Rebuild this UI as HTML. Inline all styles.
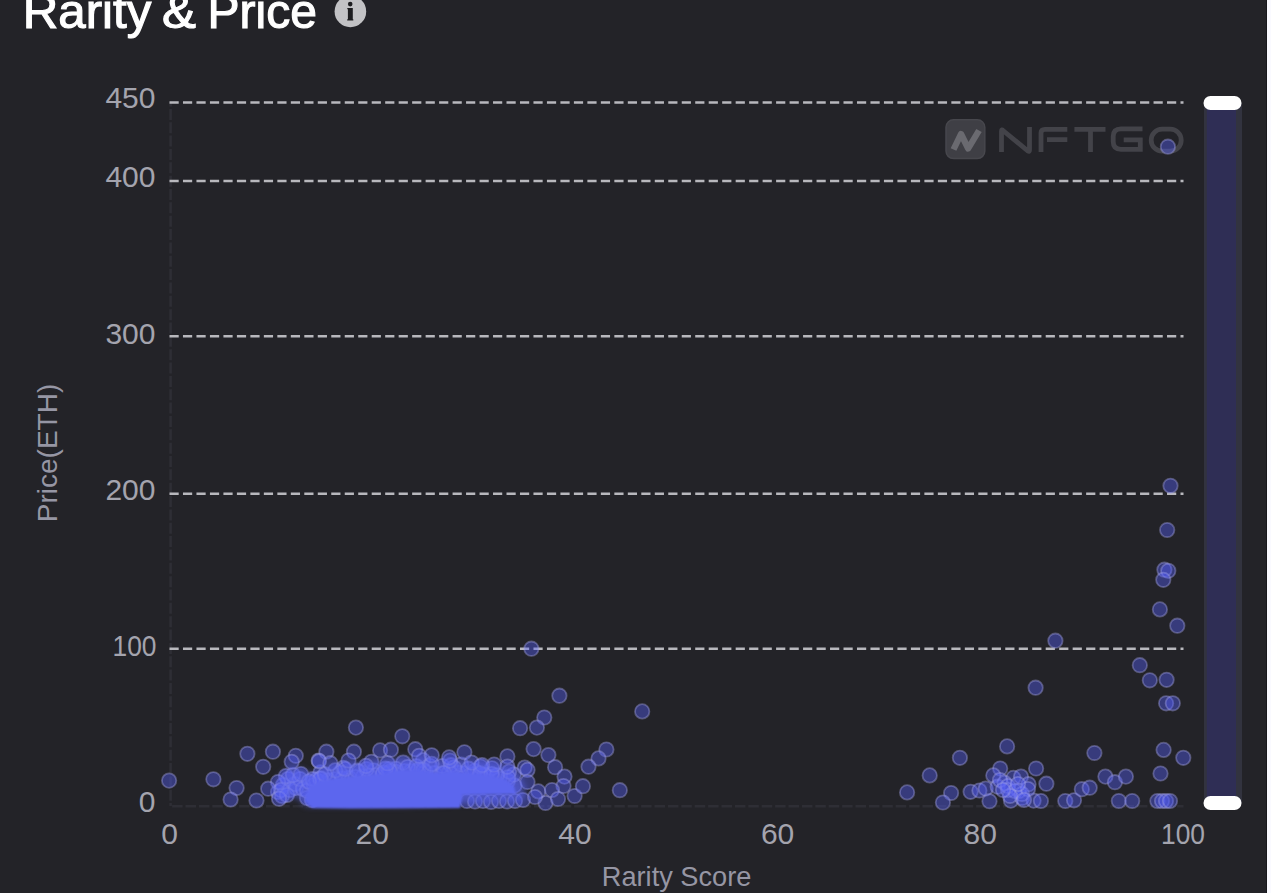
<!DOCTYPE html>
<html><head><meta charset="utf-8"><style>
html,body{margin:0;padding:0;background:#232328;width:1271px;height:893px;overflow:hidden}
svg{display:block}
text{font-family:"Liberation Sans",sans-serif}
.pts{filter:blur(0.6px)}
.halo{filter:blur(3px)}
.core{filter:blur(1.2px)}
</style></head><body>
<svg width="1271" height="893" viewBox="0 0 1271 893">
<rect width="1271" height="893" fill="#232328"/>
<g font-size="48" fill="#ffffff" stroke="#ffffff" stroke-width="1.1">
<text x="22.8" y="27.5" textLength="128.5" lengthAdjust="spacingAndGlyphs">Rarity</text>
<text x="162" y="27.5" textLength="34" lengthAdjust="spacingAndGlyphs">&amp;</text>
<text x="207.5" y="27.5" textLength="109.5" lengthAdjust="spacingAndGlyphs">Price</text>
</g>
<circle cx="350.4" cy="11.4" r="15.8" fill="#c2c2c5"/>
<path d="M347.3,7.9 H352.8 V19.3 H353.3 V20.6 H347.2 V19.3 H347.9 V9.2 H347.3 Z" fill="#1c1c1f"/>
<circle cx="350.2" cy="4.1" r="2.3" fill="#1c1c1f"/>
<g stroke="#2e2e35" stroke-width="2.6" fill="none">
<line x1="170.6" y1="102" x2="170.6" y2="806" stroke-dasharray="11 2.35" stroke-dashoffset="6.45"/>
<line x1="169.5" y1="806.2" x2="1183.5" y2="806.2" stroke-dasharray="10.5 2.9" stroke-dashoffset="10.8"/>
</g>
<g stroke="#b8b8bd" stroke-width="2.5" stroke-dasharray="9.2 4.28" fill="none"><line x1="169.5" y1="102.4" x2="1183.5" y2="102.4"/><line x1="169.5" y1="181.1" x2="1183.5" y2="181.1"/><line x1="169.5" y1="336.3" x2="1183.5" y2="336.3"/><line x1="169.5" y1="493.7" x2="1183.5" y2="493.7"/><line x1="169.5" y1="648.8" x2="1183.5" y2="648.8"/></g>
<g font-size="30" fill="#a4a4ae" text-anchor="end"><text x="155.5" y="108.4">450</text><text x="155.5" y="187.3">400</text><text x="155.5" y="343.5">300</text><text x="155.5" y="499.9">200</text><text x="155.5" y="811.6">0</text><text x="112.5" y="656.2" textLength="44" lengthAdjust="spacingAndGlyphs" text-anchor="start">100</text></g>
<g font-size="30" fill="#a4a4ae" text-anchor="middle"><text x="169.5" y="843.5">0</text><text x="372.2" y="843.5">20</text><text x="574.9" y="843.5">40</text><text x="777.6" y="843.5">60</text><text x="980.3" y="843.5">80</text><text x="1183.0" y="843.5" textLength="44" lengthAdjust="spacingAndGlyphs">100</text></g>
<text x="676.6" y="886" font-size="27.2" fill="#9696a4" text-anchor="middle">Rarity Score</text>
<text transform="translate(57,453) rotate(-90)" font-size="28" fill="#9696a4" text-anchor="middle">Price(ETH)</text>

<rect x="946" y="119.8" width="38.8" height="38.8" rx="7.5" fill="#3f3f45" stroke="#47474d" stroke-width="1.5"/>
<path d="M953.5,149.5 L961,134 L968.2,148.5 L979,130.5" fill="none" stroke="#6a6a70" stroke-width="6.3" stroke-linejoin="round"/>
<g fill="none" stroke="#434349" stroke-width="4.8">
<path d="M1001.5,152 V131 Q1001.5,129 1003,130.5 L1028,151 Q1029.5,152 1029.5,150 V127"/>
<path d="M1041,152 V133 Q1041,129.3 1045,129.3 H1067.3 M1047,139.6 H1067.3"/>
<path d="M1074.4,129.3 H1105.5 M1090.5,129.3 V152"/>
<path d="M1142.5,128.8 H1121 Q1113.2,128.8 1113.2,136.5 V141.5 Q1113.2,149.3 1121,149.3 H1140.3 V137.7 M1123.7,139.8 H1142.5"/>
<rect x="1151.2" y="129.2" width="30" height="21.9" rx="10.9"/>
</g>

<g class="pts" fill="rgba(86,96,250,0.4)" stroke="rgba(165,165,230,0.4)" stroke-width="1.8"><circle cx="278.0" cy="792.0" r="7.2"/><circle cx="283.0" cy="785.0" r="7.2"/><circle cx="288.0" cy="779.0" r="7.2"/><circle cx="282.0" cy="796.0" r="7.2"/><circle cx="290.0" cy="790.0" r="7.2"/><circle cx="295.0" cy="784.0" r="7.2"/><circle cx="286.0" cy="776.0" r="7.2"/><circle cx="296.0" cy="788.0" r="7.2"/><circle cx="300.0" cy="779.0" r="7.2"/><circle cx="293.0" cy="775.0" r="7.2"/><circle cx="278.0" cy="782.0" r="7.2"/><circle cx="303.0" cy="789.0" r="7.2"/><circle cx="307.0" cy="798.0" r="7.2"/><circle cx="281.0" cy="790.0" r="7.2"/><circle cx="287.0" cy="795.0" r="7.2"/><circle cx="310.0" cy="783.0" r="7.2"/><circle cx="312.0" cy="800.0" r="7.2"/><circle cx="301.0" cy="774.0" r="7.2"/><circle cx="307.0" cy="790.8" r="7.2"/><circle cx="314.0" cy="785.0" r="7.2"/><circle cx="320.4" cy="781.9" r="7.2"/><circle cx="328.4" cy="780.3" r="7.2"/><circle cx="334.6" cy="779.4" r="7.2"/><circle cx="342.2" cy="778.5" r="7.2"/><circle cx="349.3" cy="777.7" r="7.2"/><circle cx="355.5" cy="777.0" r="7.2"/><circle cx="363.0" cy="776.4" r="7.2"/><circle cx="369.1" cy="775.9" r="7.2"/><circle cx="376.4" cy="775.3" r="7.2"/><circle cx="382.6" cy="774.5" r="7.2"/><circle cx="388.9" cy="773.2" r="7.2"/><circle cx="396.2" cy="771.8" r="7.2"/><circle cx="404.6" cy="771.0" r="7.2"/><circle cx="411.0" cy="771.0" r="7.2"/><circle cx="417.7" cy="771.0" r="7.2"/><circle cx="425.6" cy="771.8" r="7.2"/><circle cx="434.4" cy="773.2" r="7.2"/><circle cx="442.1" cy="773.6" r="7.2"/><circle cx="449.3" cy="772.1" r="7.2"/><circle cx="458.3" cy="772.8" r="7.2"/><circle cx="464.4" cy="773.4" r="7.2"/><circle cx="473.0" cy="774.3" r="7.2"/><circle cx="479.8" cy="775.0" r="7.2"/><circle cx="486.3" cy="775.6" r="7.2"/><circle cx="492.6" cy="776.7" r="7.2"/><circle cx="499.6" cy="778.7" r="7.2"/><circle cx="508.0" cy="781.0" r="7.2"/><circle cx="514.5" cy="785.6" r="7.2"/><circle cx="442.2" cy="766.0" r="7.2"/><circle cx="423.0" cy="760.2" r="7.2"/><circle cx="320.5" cy="772.4" r="7.2"/><circle cx="450.9" cy="765.2" r="7.2"/><circle cx="374.0" cy="770.5" r="7.2"/><circle cx="403.2" cy="762.6" r="7.2"/><circle cx="474.8" cy="770.9" r="7.2"/><circle cx="359.3" cy="771.6" r="7.2"/><circle cx="418.3" cy="769.5" r="7.2"/><circle cx="461.2" cy="764.6" r="7.2"/><circle cx="513.8" cy="774.5" r="7.2"/><circle cx="395.8" cy="768.9" r="7.2"/><circle cx="339.9" cy="772.7" r="7.2"/><circle cx="316.2" cy="779.9" r="7.2"/><circle cx="468.6" cy="768.7" r="7.2"/><circle cx="491.9" cy="768.3" r="7.2"/><circle cx="454.0" cy="767.5" r="7.2"/><circle cx="429.8" cy="765.9" r="7.2"/><circle cx="484.4" cy="774.8" r="7.2"/><circle cx="407.6" cy="767.0" r="7.2"/><circle cx="320.7" cy="778.3" r="7.2"/><circle cx="443.9" cy="773.1" r="7.2"/><circle cx="480.6" cy="766.5" r="7.2"/><circle cx="389.0" cy="769.2" r="7.2"/><circle cx="312.7" cy="779.2" r="7.2"/><circle cx="343.3" cy="767.8" r="7.2"/><circle cx="320.4" cy="779.1" r="7.2"/><circle cx="335.2" cy="770.4" r="7.2"/><circle cx="390.1" cy="771.4" r="7.2"/><circle cx="324.9" cy="774.4" r="7.2"/><circle cx="423.4" cy="770.1" r="7.2"/><circle cx="480.0" cy="773.4" r="7.2"/><circle cx="366.5" cy="769.1" r="7.2"/><circle cx="383.3" cy="772.9" r="7.2"/><circle cx="509.1" cy="771.6" r="7.2"/><circle cx="345.0" cy="769.0" r="7.2"/><circle cx="357.0" cy="770.7" r="7.2"/><circle cx="431.7" cy="763.9" r="7.2"/><circle cx="308.9" cy="781.5" r="7.2"/><circle cx="385.5" cy="768.7" r="7.2"/><circle cx="508.2" cy="777.4" r="7.2"/><circle cx="416.3" cy="766.4" r="7.2"/><circle cx="450.0" cy="760.6" r="7.2"/><circle cx="496.9" cy="775.3" r="7.2"/><circle cx="491.6" cy="774.0" r="7.2"/><circle cx="467.0" cy="801.0" r="7.2"/><circle cx="475.0" cy="801.5" r="7.2"/><circle cx="483.0" cy="801.0" r="7.2"/><circle cx="491.0" cy="802.0" r="7.2"/><circle cx="499.0" cy="801.0" r="7.2"/><circle cx="507.0" cy="801.5" r="7.2"/><circle cx="515.0" cy="801.0" r="7.2"/><circle cx="523.0" cy="800.0" r="7.2"/><circle cx="169.1" cy="780.6" r="7.2"/><circle cx="213.4" cy="779.3" r="7.2"/><circle cx="247.4" cy="753.8" r="7.2"/><circle cx="272.9" cy="751.7" r="7.2"/><circle cx="263.2" cy="766.8" r="7.2"/><circle cx="236.6" cy="788.0" r="7.2"/><circle cx="230.6" cy="799.5" r="7.2"/><circle cx="256.5" cy="800.5" r="7.2"/><circle cx="268.2" cy="788.7" r="7.2"/><circle cx="295.8" cy="755.8" r="7.2"/><circle cx="291.7" cy="761.8" r="7.2"/><circle cx="279.0" cy="798.8" r="7.2"/><circle cx="318.6" cy="760.5" r="7.2"/><circle cx="355.9" cy="727.6" r="7.2"/><circle cx="402.3" cy="736.3" r="7.2"/><circle cx="326.4" cy="751.7" r="7.2"/><circle cx="319.0" cy="761.2" r="7.2"/><circle cx="330.4" cy="763.2" r="7.2"/><circle cx="353.9" cy="751.7" r="7.2"/><circle cx="348.5" cy="760.5" r="7.2"/><circle cx="380.1" cy="750.4" r="7.2"/><circle cx="390.9" cy="749.7" r="7.2"/><circle cx="387.5" cy="763.2" r="7.2"/><circle cx="415.3" cy="749.2" r="7.2"/><circle cx="419.1" cy="755.8" r="7.2"/><circle cx="431.7" cy="755.3" r="7.2"/><circle cx="371.4" cy="761.8" r="7.2"/><circle cx="366.0" cy="765.9" r="7.2"/><circle cx="449.1" cy="757.4" r="7.2"/><circle cx="464.4" cy="752.3" r="7.2"/><circle cx="471.6" cy="762.5" r="7.2"/><circle cx="494.1" cy="764.5" r="7.2"/><circle cx="507.4" cy="756.4" r="7.2"/><circle cx="507.4" cy="766.6" r="7.2"/><circle cx="524.7" cy="767.6" r="7.2"/><circle cx="482.0" cy="765.0" r="7.2"/><circle cx="544.3" cy="717.5" r="7.2"/><circle cx="536.9" cy="727.6" r="7.2"/><circle cx="520.1" cy="728.2" r="7.2"/><circle cx="533.6" cy="749.1" r="7.2"/><circle cx="548.4" cy="755.1" r="7.2"/><circle cx="555.1" cy="767.2" r="7.2"/><circle cx="564.5" cy="776.6" r="7.2"/><circle cx="563.5" cy="786.0" r="7.2"/><circle cx="574.6" cy="796.0" r="7.2"/><circle cx="545.5" cy="803.0" r="7.2"/><circle cx="538.3" cy="791.4" r="7.2"/><circle cx="527.5" cy="769.9" r="7.2"/><circle cx="527.5" cy="782.0" r="7.2"/><circle cx="531.4" cy="648.7" r="7.2"/><circle cx="559.4" cy="695.7" r="7.2"/><circle cx="642.2" cy="711.4" r="7.2"/><circle cx="606.4" cy="749.5" r="7.2"/><circle cx="598.5" cy="758.4" r="7.2"/><circle cx="588.5" cy="766.7" r="7.2"/><circle cx="619.8" cy="790.2" r="7.2"/><circle cx="582.9" cy="786.2" r="7.2"/><circle cx="535.0" cy="797.0" r="7.2"/><circle cx="552.0" cy="790.0" r="7.2"/><circle cx="558.0" cy="799.0" r="7.2"/><circle cx="907.1" cy="792.4" r="7.2"/><circle cx="929.7" cy="775.4" r="7.2"/><circle cx="951.1" cy="793.0" r="7.2"/><circle cx="942.9" cy="802.5" r="7.2"/><circle cx="959.9" cy="757.8" r="7.2"/><circle cx="1007.1" cy="746.4" r="7.2"/><circle cx="970.6" cy="791.8" r="7.2"/><circle cx="979.4" cy="790.5" r="7.2"/><circle cx="985.7" cy="788.6" r="7.2"/><circle cx="989.5" cy="801.2" r="7.2"/><circle cx="1000.2" cy="768.5" r="7.2"/><circle cx="993.3" cy="775.4" r="7.2"/><circle cx="997.7" cy="786.7" r="7.2"/><circle cx="1013.4" cy="777.9" r="7.2"/><circle cx="1021.0" cy="776.6" r="7.2"/><circle cx="1028.5" cy="784.2" r="7.2"/><circle cx="1010.9" cy="800.6" r="7.2"/><circle cx="1022.2" cy="798.0" r="7.2"/><circle cx="1036.1" cy="768.5" r="7.2"/><circle cx="1033.6" cy="800.6" r="7.2"/><circle cx="1004.6" cy="782.9" r="7.2"/><circle cx="1046.4" cy="783.7" r="7.2"/><circle cx="1040.9" cy="801.0" r="7.2"/><circle cx="1018.9" cy="791.0" r="7.2"/><circle cx="1008.0" cy="790.0" r="7.2"/><circle cx="1000.0" cy="780.0" r="7.2"/><circle cx="1008.0" cy="786.0" r="7.2"/><circle cx="1015.0" cy="791.0" r="7.2"/><circle cx="1022.0" cy="794.0" r="7.2"/><circle cx="1028.0" cy="789.0" r="7.2"/><circle cx="1018.0" cy="784.0" r="7.2"/><circle cx="1010.0" cy="796.0" r="7.2"/><circle cx="1024.0" cy="800.0" r="7.2"/><circle cx="1003.0" cy="790.0" r="7.2"/><circle cx="1094.4" cy="753.0" r="7.2"/><circle cx="1065.3" cy="801.0" r="7.2"/><circle cx="1074.0" cy="800.3" r="7.2"/><circle cx="1081.8" cy="789.2" r="7.2"/><circle cx="1089.7" cy="787.7" r="7.2"/><circle cx="1105.4" cy="776.6" r="7.2"/><circle cx="1114.9" cy="782.2" r="7.2"/><circle cx="1125.9" cy="776.6" r="7.2"/><circle cx="1118.8" cy="801.0" r="7.2"/><circle cx="1132.2" cy="801.0" r="7.2"/><circle cx="1163.6" cy="749.9" r="7.2"/><circle cx="1183.3" cy="757.8" r="7.2"/><circle cx="1160.5" cy="773.5" r="7.2"/><circle cx="1157.4" cy="801.0" r="7.2"/><circle cx="1162.0" cy="801.0" r="7.2"/><circle cx="1166.0" cy="801.0" r="7.2"/><circle cx="1170.0" cy="801.0" r="7.2"/><circle cx="1170.5" cy="485.8" r="7.2"/><circle cx="1167.2" cy="530.0" r="7.2"/><circle cx="1164.4" cy="569.7" r="7.2"/><circle cx="1168.3" cy="570.8" r="7.2"/><circle cx="1163.3" cy="579.8" r="7.2"/><circle cx="1159.9" cy="609.4" r="7.2"/><circle cx="1177.3" cy="625.7" r="7.2"/><circle cx="1139.8" cy="665.2" r="7.2"/><circle cx="1149.8" cy="680.3" r="7.2"/><circle cx="1166.6" cy="679.8" r="7.2"/><circle cx="1166.1" cy="703.3" r="7.2"/><circle cx="1172.8" cy="703.3" r="7.2"/><circle cx="1055.4" cy="640.7" r="7.2"/><circle cx="1035.6" cy="687.7" r="7.2"/><circle cx="1167.9" cy="146.7" r="7.2"/></g>
<path class="halo" d="M276,795 L278,778 L288,768 L300,768 L310,774 L330,766 L355,763 L380,760 L400,758 L420,758 L440,761 L470,762 L490,764 L508,768 L520,776 L526,790 L524,800 L470,803 L400,806 L306,806 L296,796 L285,800 L277,797 Z" fill="rgba(92,102,240,0.6)"/>
<path class="core" d="M306,794 L310,786 L320,781 L330,779 L355,776 L380,774 L400,770 L420,770 L440,773 L450,771 L470,773 L490,775 L506,780 L514,786 L516,794 L463,795 L460,808 L350,808.5 L312,808 L305,801 Z" fill="#5c66ee"/>
<rect x="1204" y="103" width="38" height="700" fill="#32333f"/>
<rect x="1206.8" y="103" width="29.2" height="700" fill="#2f2e55"/>
<rect x="1203.5" y="96" width="38" height="14" rx="7" fill="#ffffff"/>
<rect x="1203.5" y="796" width="38" height="14" rx="7" fill="#ffffff"/>
<rect x="1266" y="0" width="1" height="893" fill="#18181c"/>
<rect x="1267" y="0" width="4" height="893" fill="#fafaff"/>
</svg>
</body></html>
